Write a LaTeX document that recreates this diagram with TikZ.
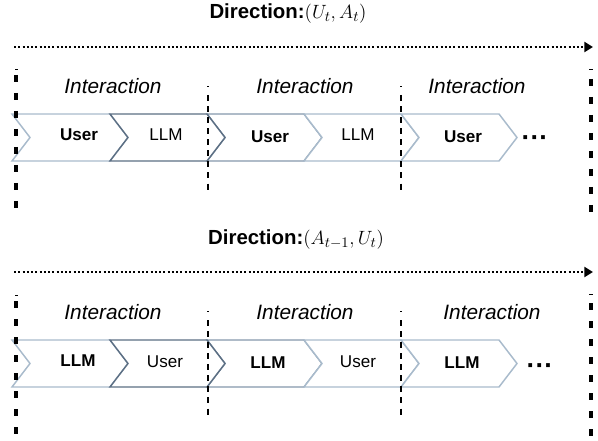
\documentclass[tikz,border=0pt]{standalone}
\usepackage{fontspec}
\setmainfont{Liberation Sans}
\usetikzlibrary{arrows.meta}
\definecolor{chlight}{HTML}{A9BBCC}
\definecolor{chmed}{HTML}{8598AC}
\definecolor{chdark}{HTML}{5C6F84}
\tikzset{
  chev/.style={line width=1.1pt, line join=miter, fill=white},
  lbl/.style={font=\fontsize{12.8}{14}\selectfont, inner sep=0pt},
  lblb/.style={font=\fontsize{12.8}{14}\selectfont\bfseries, inner sep=0pt},
  inter/.style={font=\fontsize{15.6}{18}\selectfont\itshape, inner sep=0pt},
  title/.style={font=\fontsize{15.3}{18}\selectfont, inner sep=0pt},
  thickdash/.style={line width=2.9pt, dash pattern=on 5.5pt off 8pt},
  thindash/.style={line width=1.8pt, dash pattern=on 4.5pt off 3.8pt},
  tick/.style={line width=0.6pt},
  dotarrow/.style={line width=2.2pt, dash pattern=on 1.5pt off 1.7pt, -{Triangle[length=6.5pt,width=7.5pt]}},
  ell/.style={font=\fontsize{20}{22}\selectfont\bfseries, inner sep=0pt},
}
\newcommand{\chevpath}[4]{% a, b, top, color
  \draw[chev,draw=#4] (#1,#3) -- (#2,#3) -- ({#2+18},{#3+23.5}) -- (#2,{#3+47}) -- (#1,{#3+47}) -- ({#1+18},{#3+23.5}) -- cycle;}
\begin{document}
\begin{tikzpicture}[x=0.75pt,y=-0.75pt]
\useasboundingbox (0,0) rectangle (598,441);

% ---------------- top section ----------------
\node[title] (t1) at (288,14) {\textbf{Direction:}$(U_t, A_t)$};
\coordinate (a1s) at (14,47);
\coordinate (a1e) at (593,47);
\draw[dotarrow] (a1s) -- (a1e);

\chevpath{12}{110}{114}{chlight}
\chevpath{207}{304}{114}{chmed}
\chevpath{304}{401}{114}{chlight}
\chevpath{401}{499}{114}{chlight}
\chevpath{110}{207}{114}{chdark}

\node[lblb] (u1) at (79,135) {User};
\node[lbl]  (l1) at (166,135) {LLM};
\node[lblb] (u2) at (270,137) {User};
\node[lbl]  (l2) at (358,135) {LLM};
\node[lblb] (u3) at (463,137) {User};
\node[ell] (e1) at (535,141) {···};

\node[inter] (i1) at (113,86) {Interaction};
\node[inter] (i2) at (305,86) {Interaction};
\node[inter] (i3) at (477,86) {Interaction};

\draw[thickdash] (16,75) -- (16,214);
\draw[thickdash] (591,79) -- (591,214);
\draw[thindash] (208,95) -- (208,191);
\draw[thindash] (401,95) -- (401,191);
\draw[tick] (15,69) -- (18,69);
\draw[tick] (589,69) -- (593,69);
\draw[tick] (207,86) -- (209,86);
\draw[tick] (400,86) -- (402,86);

% ---------------- bottom section ----------------
\node[title] (t2) at (296,240) {\textbf{Direction:}$(A_{t-1}, U_t)$};
\coordinate (a2s) at (14,272);
\coordinate (a2e) at (593,272);
\draw[dotarrow] (a2s) -- (a2e);

\chevpath{12}{110}{340}{chlight}
\chevpath{207}{304}{340}{chmed}
\chevpath{304}{401}{340}{chlight}
\chevpath{401}{499}{340}{chlight}
\chevpath{110}{207}{340}{chdark}

\node[lblb] (b1) at (78,361) {LLM};
\node[lbl]  (b2) at (165,362) {User};
\node[lblb] (b3) at (268,363) {LLM};
\node[lbl]  (b4) at (358,362) {User};
\node[lblb] (b5) at (462,363) {LLM};
\node[ell] (e2) at (540,369) {···};

\node[inter] (j1) at (113,312) {Interaction};
\node[inter] (j2) at (305,312) {Interaction};
\node[inter] (j3) at (492,312) {Interaction};

\draw[thickdash] (16,301) -- (16,441);
\draw[thickdash] (591,303) -- (591,441);
\draw[thindash] (208,320) -- (208,418);
\draw[thindash] (401,320) -- (401,418);
\draw[tick] (15,295) -- (18,295);
\draw[tick] (589,294) -- (593,294);
\draw[tick] (207,311) -- (209,311);
\draw[tick] (400,311) -- (402,311);
\end{tikzpicture}
\end{document}
